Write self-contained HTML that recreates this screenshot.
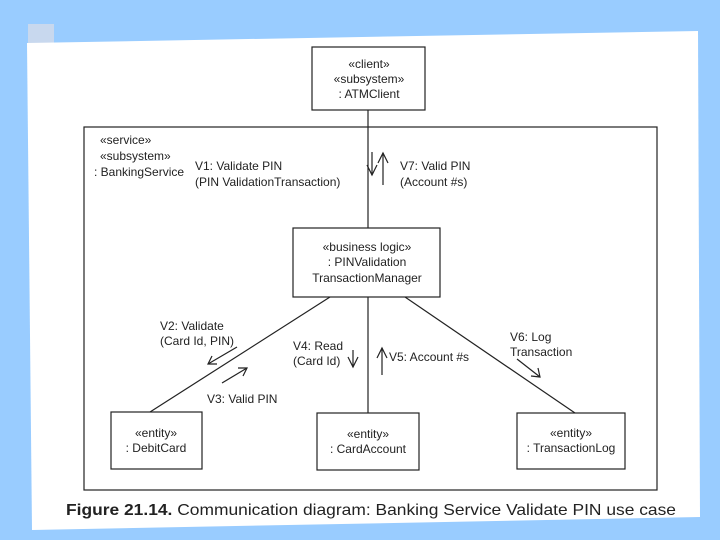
<!DOCTYPE html>
<html><head><style>
html,body{margin:0;padding:0;width:720px;height:540px;overflow:hidden;background:#99ccff}
svg{display:block}
text{font-family:"Liberation Sans",sans-serif;font-size:12px;fill:#222}
</style></head><body>
<svg width="720" height="540" viewBox="0 0 720 540" xmlns="http://www.w3.org/2000/svg">
<rect x="0" y="0" width="720" height="540" fill="#99ccff"/>
<rect x="28" y="24" width="26" height="20" fill="#c8d8ee"/>
<polygon points="27,43 698,31 700,517 32,530" fill="#fff"/>
<g stroke="#222" stroke-width="1.2" fill="none">
<rect x="312" y="47" width="113" height="63"/>
<rect x="84" y="127" width="573" height="363"/>
<rect x="293" y="228" width="147" height="69"/>
<rect x="111" y="412" width="91" height="57"/>
<rect x="317" y="413" width="102" height="57"/>
<rect x="517" y="413" width="108" height="56"/>
<line x1="368" y1="110" x2="368" y2="228"/>
<line x1="330" y1="297" x2="150" y2="412"/>
<line x1="368" y1="297" x2="368" y2="413"/>
<line x1="405" y1="297" x2="575" y2="413"/>
<line x1="372" y1="152" x2="372" y2="175"/><polyline points="367,165 372,175 377,165"/>
<line x1="383" y1="153" x2="383" y2="185"/><polyline points="378,163 383,153 388,163"/>
<line x1="237" y1="347" x2="208" y2="364"/><polyline points="212,356 208,364 217,364"/>
<line x1="222" y1="383" x2="247" y2="368"/><polyline points="238,368 247,368 243,376"/>
<line x1="353" y1="350" x2="353" y2="367"/><polyline points="348,357 353,367 358,357"/>
<line x1="382" y1="348" x2="382" y2="375"/><polyline points="377,358 382,348 387,358"/>
<line x1="517" y1="359" x2="540" y2="377"/><polyline points="531,376 540,377 538,368"/>
</g>
<g text-anchor="middle">
<text x="369" y="68">«client»</text>
<text x="369" y="83">«subsystem»</text>
<text x="369" y="98">: ATMClient</text>
<text x="367" y="251">«business logic»</text>
<text x="367" y="266">: PINValidation</text>
<text x="367" y="282">TransactionManager</text>
<text x="156" y="437">«entity»</text>
<text x="156" y="452">: DebitCard</text>
<text x="368" y="438">«entity»</text>
<text x="368" y="453">: CardAccount</text>
<text x="571" y="437">«entity»</text>
<text x="571" y="452">: TransactionLog</text>
</g>
<text x="100" y="144">«service»</text>
<text x="100" y="160">«subsystem»</text>
<text x="94" y="176">: BankingService</text>
<text x="195" y="170">V1: Validate PIN</text>
<text x="195" y="186">(PIN ValidationTransaction)</text>
<text x="400" y="170">V7: Valid PIN</text>
<text x="400" y="186">(Account #s)</text>
<text x="160" y="330">V2: Validate</text>
<text x="160" y="345">(Card Id, PIN)</text>
<text x="207" y="403">V3: Valid PIN</text>
<text x="293" y="350">V4: Read</text>
<text x="293" y="365">(Card Id)</text>
<text x="389" y="361">V5: Account #s</text>
<text x="510" y="341">V6: Log</text>
<text x="510" y="356">Transaction</text>
<text x="66" y="515" style="font-size:16px" textLength="610" lengthAdjust="spacingAndGlyphs"><tspan font-weight="bold">Figure 21.14.</tspan> Communication diagram: Banking Service Validate PIN use case</text>
</svg>
</body></html>
